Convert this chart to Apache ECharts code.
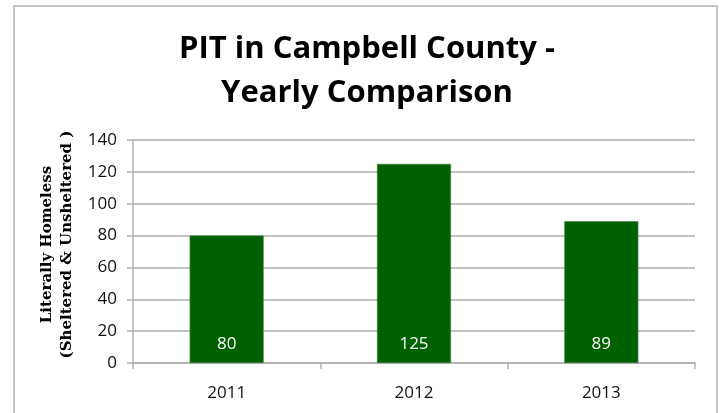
<!DOCTYPE html>
<html>
<head>
<meta charset="utf-8">
<script src="https://cdn.jsdelivr.net/npm/echarts@6/dist/echarts.min.js"></script>
<style>
html,body{margin:0;padding:0;background:#fff;}
#chart{width:722px;height:413px;}
</style>
</head>
<body>
<div id="chart"></div>
<script>
const titleText = 'PIT in Campbell County -\nYearly Comparison';
const categories = ['2011', '2012', '2013'];
const values = [80, 125, 89];
const yTicks = [0, 20, 40, 60, 80, 100, 120, 140];
const yAxisName = 'Literally Homeless\n(Sheltered & Unsheltered )';

const chart = echarts.init(document.getElementById('chart'), null, {renderer: 'canvas'});
chart.setOption({
  backgroundColor: '#ffffff',
  animation: false,
  title: {
    text: titleText,
    left: 362,
    top: 22,
    textAlign: 'center',
    textStyle: {
      fontFamily: 'Open Sans',
      fontWeight: 'bold',
      fontSize: 31,
      lineHeight: 44,
      color: '#000000'
    }
  },
  graphic: [{
    type: 'rect',
    shape: {x: 14, y: 6, width: 703, height: 420},
    style: {fill: 'none', stroke: '#c6c6c6', lineWidth: 2},
    silent: true
  }],
  grid: {left: 133, right: 27, top: 140, bottom: 50, containLabel: false},
  xAxis: {
    type: 'category',
    data: categories,
    axisLine: {lineStyle: {color: '#b0b0b0', width: 1.5}},
    axisTick: {show: true, alignWithLabel: false, length: 6, lineStyle: {color: '#b0b0b0', width: 1.5}},
    axisLabel: {fontFamily: 'Open Sans', fontSize: 17, color: '#111', margin: 22}
  },
  yAxis: {
    type: 'value',
    min: yTicks[0],
    max: yTicks[yTicks.length - 1],
    interval: 20,
    name: yAxisName,
    nameLocation: 'middle',
    nameGap: 52,
    nameRotate: 90,
    nameTextStyle: {
      fontFamily: 'DejaVu Serif',
      fontWeight: 'bold',
      fontSize: 15,
      lineHeight: 20,
      color: '#000',
      padding: [0, 0, 0, 14]
    },
    axisLine: {show: true, lineStyle: {color: '#b0b0b0', width: 1.5}},
    axisTick: {show: true, length: 6, lineStyle: {color: '#b0b0b0', width: 1.5}},
    axisLabel: {fontFamily: 'Open Sans', fontSize: 17, color: '#111', margin: 16},
    splitLine: {lineStyle: {color: '#c0c0c0', width: 2}}
  },
  series: [{
    type: 'bar',
    data: values,
    barWidth: '39.5%',
    itemStyle: {color: '#006100', borderColor: '#3c8a3c', borderWidth: 0.6},
    label: {
      show: true,
      position: 'insideBottom',
      distance: 10,
      fontFamily: 'Open Sans',
      fontSize: 17,
      color: '#ffffff'
    }
  }]
});
</script>
</body>
</html>
